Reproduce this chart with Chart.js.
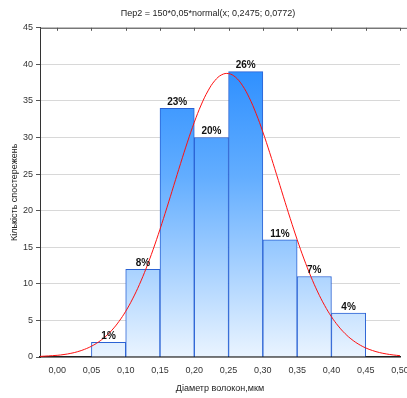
<!DOCTYPE html>
<html>
<head>
<meta charset="utf-8">
<script src="https://cdn.jsdelivr.net/npm/chart.js@4/dist/chart.umd.min.js"></script>
<style>
  html, body { margin: 0; padding: 0; background: #fff; }
  #wrap { width: 407px; height: 398px; }
</style>
</head>
<body>
<div id="wrap"><canvas id="histChart" width="407" height="398"></canvas></div>
<script>
// histogram bins (centres of 0.05-wide classes) and observation counts
const binCenters = [0.075, 0.125, 0.175, 0.225, 0.275, 0.325, 0.375, 0.425];
const counts = [2, 12, 34, 30, 39, 16, 11, 6];
const percentLabels = ["1%", "8%", "23%", "20%", "26%", "11%", "7%", "4%"];

// fitted normal curve
const curveX = [-0.025, 0.00, 0.01, 0.02, 0.03, 0.04, 0.05, 0.06, 0.07, 0.08, 0.09,
  0.10, 0.11, 0.12, 0.13, 0.14, 0.15, 0.16, 0.17, 0.18, 0.19,
  0.20, 0.21, 0.22, 0.23, 0.24, 0.25, 0.26, 0.27, 0.28, 0.29,
  0.30, 0.31, 0.32, 0.33, 0.34, 0.35, 0.36, 0.37, 0.38, 0.39,
  0.40, 0.41, 0.42, 0.43, 0.44, 0.45, 0.46, 0.47, 0.48, 0.49, 0.50];
const curveY = [0.08, 0.23, 0.34, 0.50, 0.73, 1.05, 1.47, 2.03, 2.76, 3.68, 4.84,
  6.25, 7.94, 9.91, 12.17, 14.70, 17.46, 20.39, 23.42, 26.45, 29.37,
  32.08, 34.45, 36.38, 37.78, 38.58, 38.74, 38.26, 37.15, 35.47, 33.31,
  30.76, 27.93, 24.94, 21.90, 18.91, 16.05, 13.40, 11.01, 8.89, 7.06,
  5.51, 4.23, 3.19, 2.37, 1.73, 1.24, 0.88, 0.61, 0.42, 0.28, 0.18];

const xTickValues = [0, 0.05, 0.10, 0.15, 0.20, 0.25, 0.30, 0.35, 0.40, 0.45, 0.50];
const xTickLabels = ["0,00", "0,05", "0,10", "0,15", "0,20", "0,25", "0,30", "0,35", "0,40", "0,45", "0,50"];

const titleText = "Пер2 = 150*0,05*normal(x; 0,2475; 0,0772)";
const xTitle = "Діаметр волокон,мкм";
const yTitle = "Кількість спостережень";

const FONT = "'Liberation Sans', Arial, sans-serif";

// top frame line with little inward ticks + percent labels above bars
const extrasPlugin = {
  id: "extras",
  afterDatasetsDraw(chart) {
    const ctx = chart.ctx;
    const area = chart.chartArea;
    const xs = chart.scales.x;
    ctx.save();
    ctx.strokeStyle = "#555";
    ctx.lineWidth = 1;
    ctx.beginPath();
    ctx.moveTo(area.left, area.top + 0.5);
    ctx.lineTo(chart.width, area.top + 0.5);
    xTickValues.forEach(v => {
      const px = Math.round(xs.getPixelForValue(v)) + 0.5;
      ctx.moveTo(px, area.top);
      ctx.lineTo(px, area.top + 3);
    });
    ctx.stroke();

    const meta = chart.getDatasetMeta(1);
    ctx.fillStyle = "#111";
    ctx.font = "bold 10px " + FONT;
    ctx.textAlign = "center";
    ctx.textBaseline = "bottom";
    meta.data.forEach((bar, i) => {
      ctx.fillText(percentLabels[i], bar.x, bar.y - 1);
    });
    ctx.restore();
  }
};

const ctx = document.getElementById("histChart").getContext("2d");
new Chart(ctx, {
  type: "bar",
  data: {
    datasets: [
      {
        type: "line",
        data: curveX.map((x, i) => ({ x: x, y: curveY[i] })),
        borderColor: "#ff1010",
        borderWidth: 1,
        pointRadius: 0,
        tension: 0.4,
        fill: false,
        order: 0
      },
      {
        type: "bar",
        data: binCenters.map((x, i) => ({ x: x, y: counts[i] })),
        backgroundColor: c => {
          const area = c.chart.chartArea;
          if (!area) return "#5aa8ff";
          const g = c.chart.ctx.createLinearGradient(0, area.top, 0, area.bottom);
          g.addColorStop(0, "#1a84ff");
          g.addColorStop(0.45, "#62adff");
          g.addColorStop(1, "#eaf4ff");
          return g;
        },
        borderColor: "#2a62d4",
        borderWidth: 1,
        borderSkipped: "bottom",
        barPercentage: 1,
        categoryPercentage: 1,
        order: 1
      }
    ]
  },
  options: {
    responsive: false,
    animation: false,
    events: [],
    layout: { padding: { left: 9, right: 0, top: 0, bottom: 0 } },
    plugins: {
      legend: { display: false },
      tooltip: { enabled: false },
      title: {
        display: true,
        text: titleText,
        color: "#222",
        font: { family: FONT, size: 9, weight: "normal" },
        padding: { top: 8, bottom: 9 }
      }
    },
    scales: {
      x: {
        type: "linear",
        min: -0.025,
        max: 0.5,
        offset: false,
        afterBuildTicks: scale => {
          scale.ticks = xTickValues.map(v => ({ value: v }));
        },
        afterFit: scale => {
          scale.paddingRight = 7;
          scale.height = 41;
        },
        ticks: {
          autoSkip: false,
          maxRotation: 0,
          color: "#333",
          padding: 8,
          font: { family: FONT, size: 9 },
          callback: (v, i) => xTickLabels[i]
        },
        grid: { offset: false, drawOnChartArea: false, drawTicks: false },
        border: { color: "#222", width: 1.5 },
        title: {
          display: true,
          text: xTitle,
          color: "#222",
          font: { family: FONT, size: 9 },
          padding: { top: 7, bottom: 4 }
        }
      },
      y: {
        min: 0,
        max: 45,
        afterFit: scale => {
          scale.width = 31;
        },
        ticks: {
          stepSize: 5,
          color: "#333",
          padding: 3,
          font: { family: FONT, size: 9 }
        },
        grid: { color: "#d8d8d8", tickLength: 4, tickColor: "#555" },
        border: { color: "#333", width: 1 },
        title: {
          display: true,
          text: yTitle,
          color: "#222",
          font: { family: FONT, size: 9 },
          padding: { top: 0, bottom: 4 }
        }
      }
    }
  },
  plugins: [extrasPlugin]
});
</script>
</body>
</html>
